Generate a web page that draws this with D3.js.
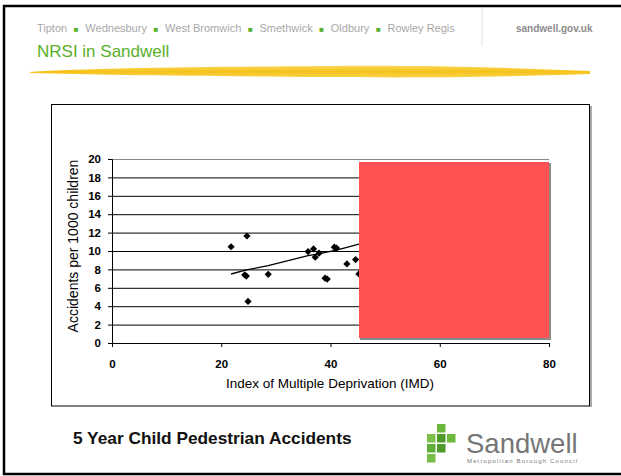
<!DOCTYPE html>
<html lang="en">
<head>
<meta charset="UTF-8">
<title>NRSI in Sandwell</title>
<script src="https://d3js.org/d3.v7.min.js"></script>
<style>
  body { margin: 0; background: #fff; }
  svg text { font-family: "Liberation Sans", Arial, sans-serif; }
</style>
</head>
<body>
<div id="chart"></div>
<script>
// data
var imd = [21.8, 24.7, 24.3, 24.6, 24.9, 28.6, 35.9, 36.9, 37.2, 37.9, 39.0, 39.4, 40.7, 41.1, 43.0, 44.6, 45.2];
var rate = [10.46, 11.63, 7.40, 7.28, 4.52, 7.47, 9.94, 10.23, 9.32, 9.76, 7.05, 6.95, 10.42, 10.32, 8.59, 9.07, 7.51];
var trendX = [21.8, 24.6, 28.6, 35.9, 37.5, 40.9, 43.0, 45.2, 47.0];
var trendY = [7.5, 7.95, 8.4, 9.5, 9.65, 10.08, 10.4, 10.75, 10.9];
var xTicks = [0, 20, 40, 60, 80];
var yTicks = [0, 2, 4, 6, 8, 10, 12, 14, 16, 18, 20];
var towns = ["Tipton", "Wednesbury", "West Bromwich", "Smethwick", "Oldbury", "Rowley Regis"];

var W = 621, H = 476;
var svg = d3.select("#chart").append("svg")
  .attr("width", W).attr("height", H);

// slide frame (left, top, bottom)
svg.append("path")
  .attr("d", "M621,6 H4 V474 H621")
  .attr("fill", "none").attr("stroke", "#000").attr("stroke-width", 2.5);

// header town list
var hdr = svg.append("text").attr("x", 37).attr("y", 32)
  .style("font-size", "11px").style("white-space", "pre").attr("fill", "#a8a8a8");
towns.forEach(function(t, i) {
  if (i > 0) hdr.append("tspan").attr("fill", "#5aaf2b").style("font-size", "8px").text("   \u25A0   ");
  hdr.append("tspan").text(t);
});

svg.append("line").attr("x1", 482).attr("x2", 482).attr("y1", 8).attr("y2", 46)
  .attr("stroke", "#e2e2e2").attr("stroke-width", 1);
svg.append("text").attr("x", 516).attr("y", 32)
  .style("font-size", "10px").style("font-weight", "bold")
  .attr("fill", "#8c8c8c").text("sandwell.gov.uk");

svg.append("text").attr("x", 37).attr("y", 57)
  .style("font-size", "17px").attr("fill", "#5aaf2b").text("NRSI in Sandwell");

// yellow brush stroke
var grad = svg.append("defs").append("linearGradient").attr("id", "brush")
  .attr("x1", 0).attr("x2", 0).attr("y1", 0).attr("y2", 1);
grad.append("stop").attr("offset", "0%").attr("stop-color", "#fbd85a");
grad.append("stop").attr("offset", "50%").attr("stop-color", "#f5c21b");
grad.append("stop").attr("offset", "100%").attr("stop-color", "#f9d34a");
svg.append("path")
  .attr("d", "M30,72 C90,68 200,67 320,66 C420,65 500,67 590,71 L590,74 C500,77 420,78 320,77 C200,76 90,75 30,73 Z")
  .attr("fill", "url(#brush)");

// chart frame
svg.append("line").attr("x1", 591).attr("x2", 591).attr("y1", 106).attr("y2", 407)
  .attr("stroke", "#aaa").attr("stroke-width", 2);
svg.append("rect").attr("x", 51.5).attr("y", 104.5).attr("width", 538).attr("height", 301.5)
  .attr("fill", "#fff").attr("stroke", "#000").attr("stroke-width", 1);

var x = d3.scaleLinear().domain([0, 80]).range([112, 549]);
var y = d3.scaleLinear().domain([0, 20]).range([343, 159]);

// gridlines
svg.append("g").attr("transform", "translate(112,0)")
  .call(d3.axisLeft(y).tickValues(yTicks.slice(1)).tickSize(-(549 - 112)).tickFormat(""))
  .call(function(g) {
    g.select(".domain").remove();
    g.selectAll(".tick line").attr("stroke", function(d) { return d === 20 ? "#888" : "#000"; });
  });

// axes
svg.append("g").attr("transform", "translate(112,0)")
  .call(d3.axisLeft(y).tickValues(yTicks).tickSize(4).tickPadding(7))
  .call(function(g) {
    g.selectAll("text").style("font-size", "11.5px").style("font-weight", "bold")
      .style("font-family", "Liberation Sans, Arial, sans-serif").attr("fill", "#000");
  });
svg.append("g").attr("transform", "translate(0,343)")
  .call(d3.axisBottom(x).tickValues(xTicks).tickSize(4).tickPadding(13))
  .call(function(g) {
    g.selectAll("text").style("font-size", "11.5px").style("font-weight", "bold")
      .style("font-family", "Liberation Sans, Arial, sans-serif").attr("fill", "#000");
  });

// trend line
svg.append("path")
  .datum(trendX.map(function(v, i) { return [v, trendY[i]]; }))
  .attr("fill", "none").attr("stroke", "#000").attr("stroke-width", 1.3)
  .attr("d", d3.line().x(function(d) { return x(d[0]); }).y(function(d) { return y(d[1]); }));

// points (diamonds)
svg.selectAll(".pt").data(imd).enter().append("path")
  .attr("class", "pt")
  .attr("d", d3.symbol().type(d3.symbolSquare).size(26))
  .attr("transform", function(d, i) { return "translate(" + x(d) + "," + y(rate[i]) + ") rotate(45)"; })
  .attr("fill", "#000");

// axis titles
svg.append("text")
  .attr("transform", "translate(78,246) rotate(-90)")
  .attr("text-anchor", "middle").style("font-size", "14px")
  .text("Accidents per 1000 children");
svg.append("text").attr("x", 330).attr("y", 388)
  .attr("text-anchor", "middle").style("font-size", "13.5px")
  .text("Index of Multiple Deprivation (IMD)");

// red box covering part of the plot
svg.append("rect").attr("x", 360).attr("y", 163).attr("width", 191).attr("height", 177)
  .attr("fill", "#8a8a8a");
svg.append("rect").attr("x", 359).attr("y", 162).attr("width", 190).attr("height", 176)
  .attr("fill", "#ff5151");

// footer caption
svg.append("text").attr("x", 73).attr("y", 444)
  .style("font-size", "17.3px").style("font-weight", "bold").attr("fill", "#111")
  .text("5 Year Child Pedestrian Accidents");

// Sandwell logo
var cells = [[1, 0, "#6cb83c"], [0, 1, "#7cc04a"], [1, 1, "#4f9a2a"], [2, 1, "#6cb83c"],
             [0, 2, "#5fae35"], [1, 2, "#4f9a2a"], [0, 3, "#78be46"]];
svg.selectAll(".cell").data(cells).enter().append("rect")
  .attr("class", "cell")
  .attr("x", function(d) { return 427 + d[0] * 10; })
  .attr("y", function(d) { return 424 + d[1] * 10; })
  .attr("width", 8.5).attr("height", 8.5)
  .attr("fill", function(d) { return d[2]; });
svg.append("text").attr("x", 466).attr("y", 453)
  .style("font-size", "27.5px").attr("fill", "#767676").text("Sandwell");
svg.append("text").attr("x", 467).attr("y", 463)
  .attr("textLength", 110).style("font-size", "6px").attr("fill", "#777")
  .text("Metropolitan Borough Council");
</script>
</body>
</html>
